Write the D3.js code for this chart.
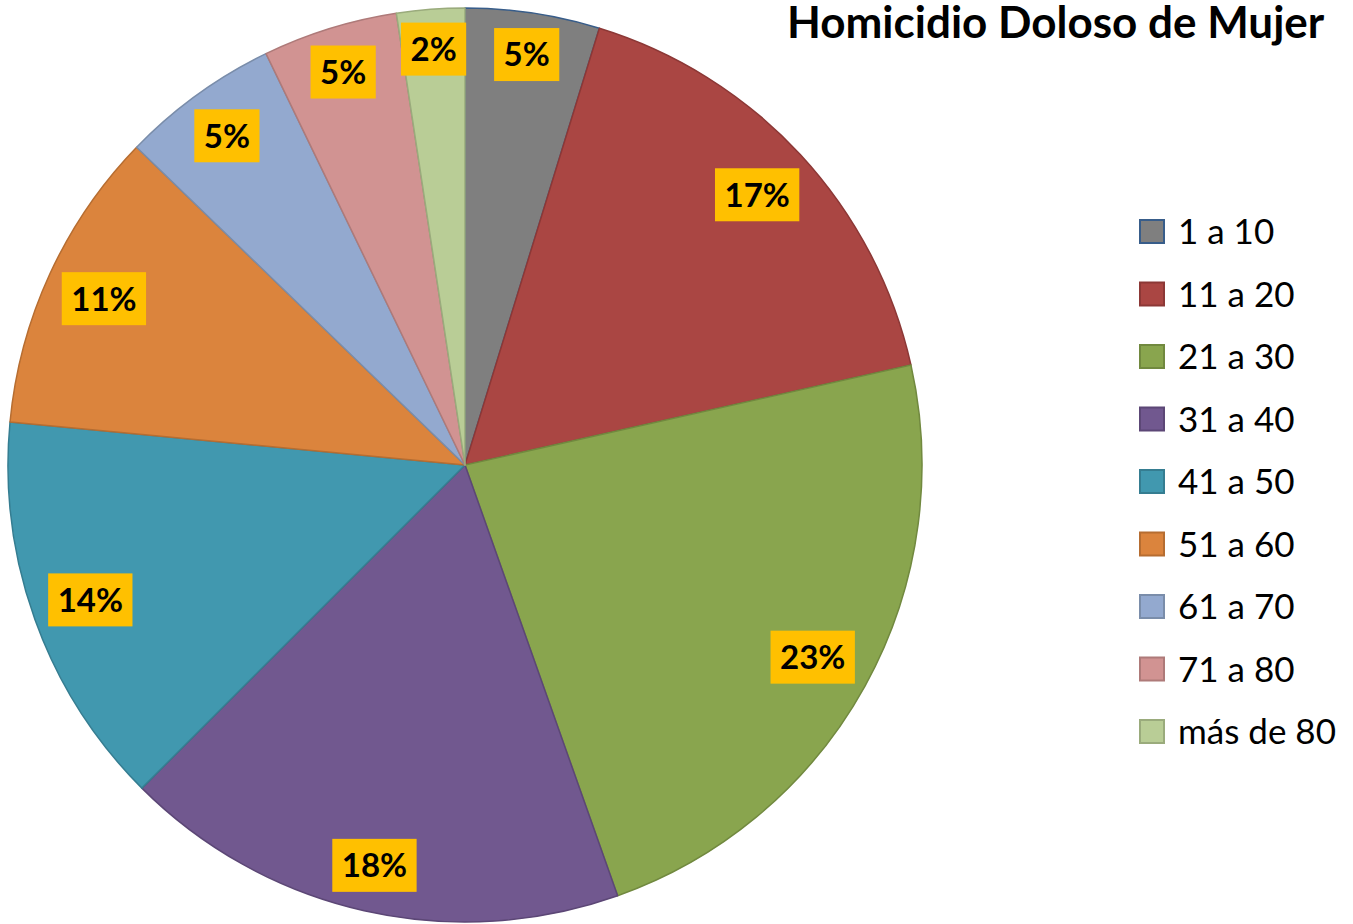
<!DOCTYPE html>
<html>
<head>
<meta charset="utf-8">
<script src="https://cdn.jsdelivr.net/npm/d3@7"></script>
<style>
  body { margin: 0; background: #fff; }
  svg text { font-family: Lato, "Open Sans", sans-serif; }
</style>
</head>
<body>
<div id="chart"></div>
<script>
// data (share of each age group)
const categories = ["1 a 10", "11 a 20", "21 a 30", "31 a 40", "41 a 50", "51 a 60", "61 a 70", "71 a 80", "más de 80"];
const values = [4.75, 16.74, 23.09, 17.92, 14.0, 10.74, 5.59, 4.77, 2.4];
const pctLabels = ["5%", "17%", "23%", "18%", "14%", "11%", "5%", "5%", "2%"];
const title = "Homicidio Doloso de Mujer";

const fills = ["#7f7f7f", "#aa4643", "#89a54e", "#71588f", "#4198af", "#db843d", "#93a9cf", "#d19392", "#b9cd96"];
const strokes = ["#385d8a", "#8c3836", "#71893f", "#5c4776", "#357d91", "#b66d31", "#7a8daa", "#ae7a79", "#9aab7c"];

const W = 1353, H = 924;
const cx = 465, cy = 465, R = 457;

const svg = d3.select("#chart").append("svg")
  .attr("width", W)
  .attr("height", H);

const color = d3.scaleOrdinal().domain(categories).range(fills);
const edge = d3.scaleOrdinal().domain(categories).range(strokes);

const pie = d3.pie().sort(null).value(d => d.v);
const arc = d3.arc().innerRadius(0).outerRadius(R);

const rows = categories.map((c, i) => ({ c: c, v: values[i], lab: pctLabels[i] }));
const arcs = pie(rows);

const g = svg.append("g").attr("transform", `translate(${cx},${cy})`);

g.selectAll("path.slice")
  .data(arcs)
  .enter().append("path")
  .attr("class", "slice")
  .attr("d", arc)
  .attr("fill", d => color(d.data.c))
  .attr("stroke", d => edge(d.data.c))
  .attr("stroke-width", 1.5)
  .attr("stroke-linejoin", "round");

// labels: gold boxes pushed to the inside end of each slice
const boxH = 53, padX = 9.5, margin = 10;
const lab = g.selectAll("g.lab")
  .data(arcs)
  .enter().append("g")
  .attr("class", "lab");

lab.each(function(d) {
  const el = d3.select(this);
  const t = el.append("text")
    .attr("text-anchor", "middle")
    .attr("dy", "0.36em")
    .attr("font-size", 33)
    .attr("font-weight", 700)
    .attr("fill", "#000")
    .text(d.data.lab);
  const tw = t.node().getComputedTextLength();
  const hw = tw / 2 + padX, hh = boxH / 2;
  el.insert("rect", "text")
    .attr("x", -hw).attr("y", -hh)
    .attr("width", hw * 2).attr("height", boxH)
    .attr("fill", "#ffc000");
  const a = (d.startAngle + d.endAngle) / 2;
  const ux = Math.sin(a), uy = -Math.cos(a);
  const c = [Math.sign(ux) * hw, Math.sign(uy) * hh];
  const uc = ux * c[0] + uy * c[1];
  const L = R - margin;
  const k = -uc + Math.sqrt(uc * uc - (c[0] * c[0] + c[1] * c[1]) + L * L);
  el.attr("transform", `translate(${k * ux},${k * uy})`);
});

// title
const tt = svg.append("text")
  .attr("x", 787)
  .attr("y", 38)
  .attr("font-size", 44)
  .attr("font-weight", 700)
  .attr("fill", "#000")
  .text(title);
if (tt.node().getComputedTextLength() > 541) {
  tt.attr("textLength", 541).attr("lengthAdjust", "spacingAndGlyphs");
}

// legend
const legY = d3.scalePoint().domain(categories).range([231, 731]);
const leg = svg.append("g").attr("class", "legend");
const item = leg.selectAll("g")
  .data(categories)
  .enter().append("g")
  .attr("transform", d => `translate(1139,${legY(d)})`);

item.append("rect")
  .attr("x", 1).attr("y", -11)
  .attr("width", 24).attr("height", 23)
  .attr("fill", d => color(d))
  .attr("stroke", d => edge(d))
  .attr("stroke-width", 2);

item.append("text")
  .attr("x", 39)
  .attr("y", 13)
  .attr("font-size", 35)
  .attr("fill", "#000")
  .text(d => d);
</script>
</body>
</html>
